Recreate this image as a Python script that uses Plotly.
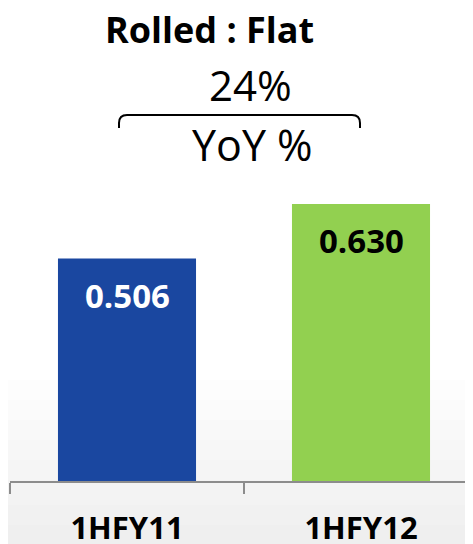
import plotly.graph_objects as go

categories = ["1HFY11", "1HFY12"]
values = [0.506, 0.630]
value_labels = ["0.506", "0.630"]
bar_colors = ["#1a47a0", "#92d050"]
label_colors = ["white", "black"]
title_text = "Rolled : Flat"
growth_text = "24%"
growth_caption = "YoY %"

W, H = 473, 544
OFF = 8  # page body offset
AXIS_Y = 481  # target pixel y of the baseline in the screenshot
PLOT_X0 = 10  # target pixel x of plot left edge
ML = PLOT_X0 - OFF
MB = H - (AXIS_Y - OFF)
pw, ph = W - ML, H - MB

def px(x):
    return (x - OFF - ML) / pw

def py(y):
    return (H - MB - (y - OFF)) / ph

fig = go.Figure()
fig.add_trace(go.Bar(
    x=categories, y=values, marker=dict(color=bar_colors, line=dict(width=0)),
    width=0.59, hoverinfo="skip",
))

annotations = []
for c, v, t, col in zip(categories, values, value_labels, label_colors):
    annotations.append(dict(
        x=c, y=v, xref="x", yref="y", text="<b>%s</b>" % t, showarrow=False,
        yanchor="top", yshift=-12, font=dict(family="Open Sans", size=33, color=col),
    ))

annotations += [
    dict(x=px(209.5), y=py(30), xref="paper", yref="paper", text="<b>%s</b>" % title_text,
         showarrow=False, xanchor="center", yanchor="middle",
         font=dict(family="Open Sans", size=36, color="black")),
    dict(x=px(250), y=py(85), xref="paper", yref="paper", text=growth_text,
         showarrow=False, xanchor="center", yanchor="middle",
         font=dict(family="Open Sans", size=42, color="black")),
    dict(x=px(252), y=py(144), xref="paper", yref="paper", text=growth_caption,
         showarrow=False, xanchor="center", yanchor="middle",
         font=dict(family="Open Sans", size=43, color="black")),
]

# brace
x0, x1, yt, yb, r = px(119), px(360), py(115), py(128), 8
dx, dy = r / pw, r / ph
brace = (f"M {x0},{yb} L {x0},{yt - dy} Q {x0},{yt} {x0 + dx},{yt} "
         f"L {x1 - dx},{yt} Q {x1},{yt} {x1},{yt - dy} L {x1},{yb}")
shapes = [dict(type="path", path=brace, xref="paper", yref="paper",
               line=dict(color="black", width=2))]

# subtle background gradient
bands = [(380, "#fdfdfd"), (400, "#fbfbfb"), (420, "#f9f9f9"), (440, "#f7f7f7"),
         (460, "#f5f5f5"), (480, "#f3f3f3"), (505, "#f1f1f1"), (525, "#efefef")]
for i, (ystart, col) in enumerate(bands):
    yend = bands[i + 1][0] if i + 1 < len(bands) else H + OFF
    shapes.append(dict(type="rect", xref="paper", yref="paper", layer="below",
                       x0=px(-20), x1=px(W + 20), y0=py(yend), y1=py(ystart),
                       fillcolor=col, line=dict(width=0)))

fig.update_layout(
    width=W, height=H,
    margin=dict(l=ML, r=0, t=0, b=MB, pad=0),
    paper_bgcolor="white", plot_bgcolor="rgba(0,0,0,0)",
    showlegend=False,
    annotations=annotations, shapes=shapes,
    xaxis=dict(range=[-0.5, -0.5 + pw / 234], showline=True, linecolor="#8c8c8c", linewidth=2,
               ticks="outside", tickson="boundaries", ticklen=11, tickwidth=2, tickcolor="#8c8c8c",
               tickfont=dict(family="Open Sans", size=31, color="black"),
               ticklabelstandoff=19, showgrid=False, zeroline=False,
               tickvals=categories, ticktext=["<b>%s</b>" % c for c in categories]),
    yaxis=dict(range=[0, ph / 439.5], visible=False, showgrid=False, zeroline=False),
)

fig.write_html("out.html")
